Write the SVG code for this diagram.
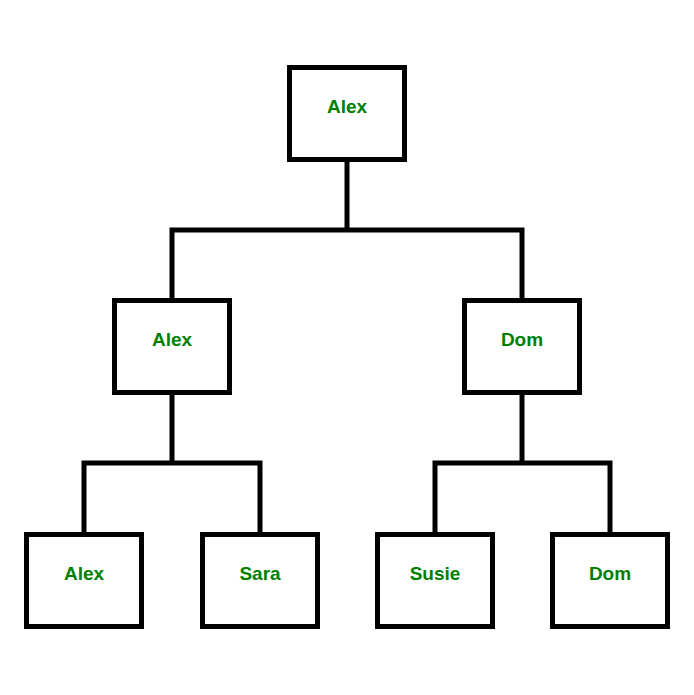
<svg xmlns="http://www.w3.org/2000/svg" width="694" height="695" viewBox="0 0 694 695">
<style>
.box{fill:#fff;stroke:#000;stroke-width:5}
.lbl{font-family:"Liberation Sans",Arial,sans-serif;font-weight:bold;font-size:19px;fill:#008000;text-anchor:middle}
.con{fill:none;stroke:#000;stroke-width:5;stroke-linecap:square}
</style>
<rect width="694" height="695" fill="#fff"/>
<g id="connectors">
<path class="con" d="M347,161V230M172,230H522M172,230V298M522,230V298"/>
<path class="con" d="M172,395V463M84,463H260M84,463V532M260,463V532"/>
<path class="con" d="M522,395V463M435,463H610M435,463V532M610,463V532"/>
</g>
<g id="n_root"><rect class="box" x="289.5" y="67.5" width="115" height="92"/><text class="lbl" x="347" y="113">Alex</text></g>
<g id="n_alex2"><rect class="box" x="114.5" y="300.5" width="115" height="92"/><text class="lbl" x="172" y="346">Alex</text></g>
<g id="n_dom2"><rect class="box" x="464.5" y="300.5" width="115" height="92"/><text class="lbl" x="522" y="346">Dom</text></g>
<g id="n_alex3"><rect class="box" x="26.5" y="534.5" width="115" height="92"/><text class="lbl" x="84" y="580">Alex</text></g>
<g id="n_sara"><rect class="box" x="202.5" y="534.5" width="115" height="92"/><text class="lbl" x="260" y="580">Sara</text></g>
<g id="n_susie"><rect class="box" x="377.5" y="534.5" width="115" height="92"/><text class="lbl" x="435" y="580">Susie</text></g>
<g id="n_dom3"><rect class="box" x="552.5" y="534.5" width="115" height="92"/><text class="lbl" x="610" y="580">Dom</text></g>
</svg>
